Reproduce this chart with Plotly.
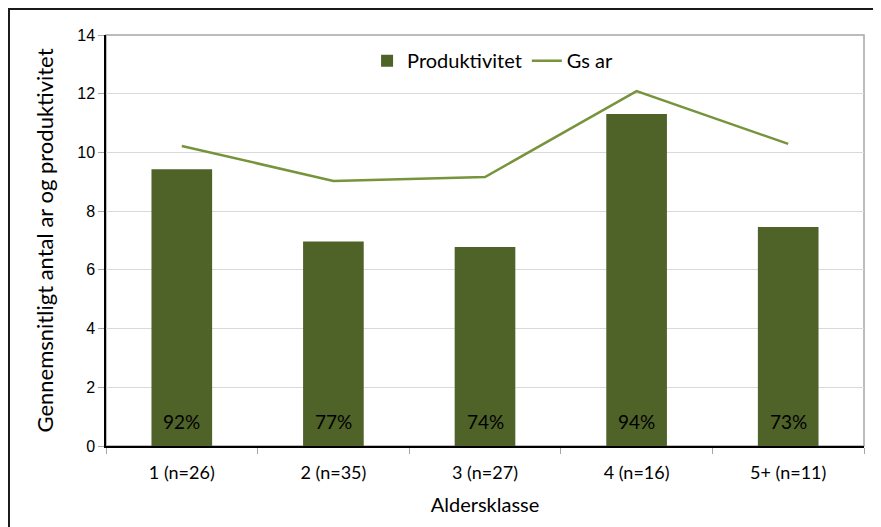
import plotly.graph_objects as go

# Data
categories = ["1 (n=26)", "2 (n=35)", "3 (n=27)", "4 (n=16)", "5+ (n=11)"]
produktivitet = [9.43, 6.97, 6.78, 11.31, 7.46]
gs_ar = [10.22, 9.03, 9.16, 12.09, 10.29]
pct_labels = ["92%", "77%", "74%", "94%", "73%"]

BAR_COLOR = "#4F6228"
LINE_COLOR = "#77933C"
CAL_FONT = "Lato, 'Open Sans', sans-serif"
NUM_FONT = "'Liberation Sans', Arial, sans-serif"

fig = go.Figure()
fig.add_trace(go.Bar(
    x=categories,
    y=produktivitet,
    name="Produktivitet",
    marker=dict(color=BAR_COLOR, line=dict(width=0)),
    width=0.4,
))
fig.add_trace(go.Scatter(
    x=categories,
    y=gs_ar,
    name="Gs ar",
    mode="lines",
    line=dict(color=LINE_COLOR, width=2.5),
))

# percentage labels at the foot of each bar
for cat, lab in zip(categories, pct_labels):
    fig.add_annotation(
        x=cat, y=0, text=lab, showarrow=False,
        yanchor="bottom", yshift=11,
        font=dict(family=CAL_FONT, size=19, color="black"),
    )

# plot-area border (grey) and outer frame
fig.add_shape(type="rect", xref="paper", yref="paper", x0=0, x1=1, y0=0, y1=1,
              line=dict(color="#A6A6A6", width=1.5), layer="below")
fig.add_shape(type="rect", xref="paper", yref="paper",
              x0=-0.128, x1=1.05, y0=-0.25, y1=1.0633,
              line=dict(color="#1a1a1a", width=2))

# the page body adds an 8px offset, so the figure is 8px smaller
fig.update_layout(
    width=873, height=519,
    margin=dict(l=98, r=17, t=27, b=81, autoexpand=False),
    plot_bgcolor="white",
    paper_bgcolor="white",
    showlegend=True,
    legend=dict(
        orientation="h", x=0.51, xanchor="center", y=0.985, yanchor="top",
        font=dict(family=CAL_FONT, size=20, color="black"),
        bgcolor="rgba(0,0,0,0)", itemwidth=30,
    ),
    xaxis=dict(
        type="category", automargin=False,
        showline=True, linecolor="black", linewidth=1.5,
        ticks="outside", tickson="boundaries", ticklen=6, tickcolor="#A6A6A6",
        ticklabelstandoff=10,
        tickfont=dict(family=CAL_FONT, size=18, color="black"),
        title=dict(text="Aldersklasse", font=dict(family=CAL_FONT, size=20, color="black"),
                   standoff=16),
        showgrid=False,
    ),
    yaxis=dict(
        range=[0, 14], dtick=2, automargin=False,
        showline=True, linecolor="black", linewidth=1.5,
        ticks="outside", ticklen=6, tickcolor="#A6A6A6",
        tickfont=dict(family=NUM_FONT, size=16, color="black"),
        gridcolor="#D9D9D9", gridwidth=1,
        zeroline=False,
        title=dict(text="Gennemsnitligt antal ar og produktivitet",
                   font=dict(family=CAL_FONT, size=22, color="black"), standoff=18),
    ),
)

fig.write_html("out.html")
